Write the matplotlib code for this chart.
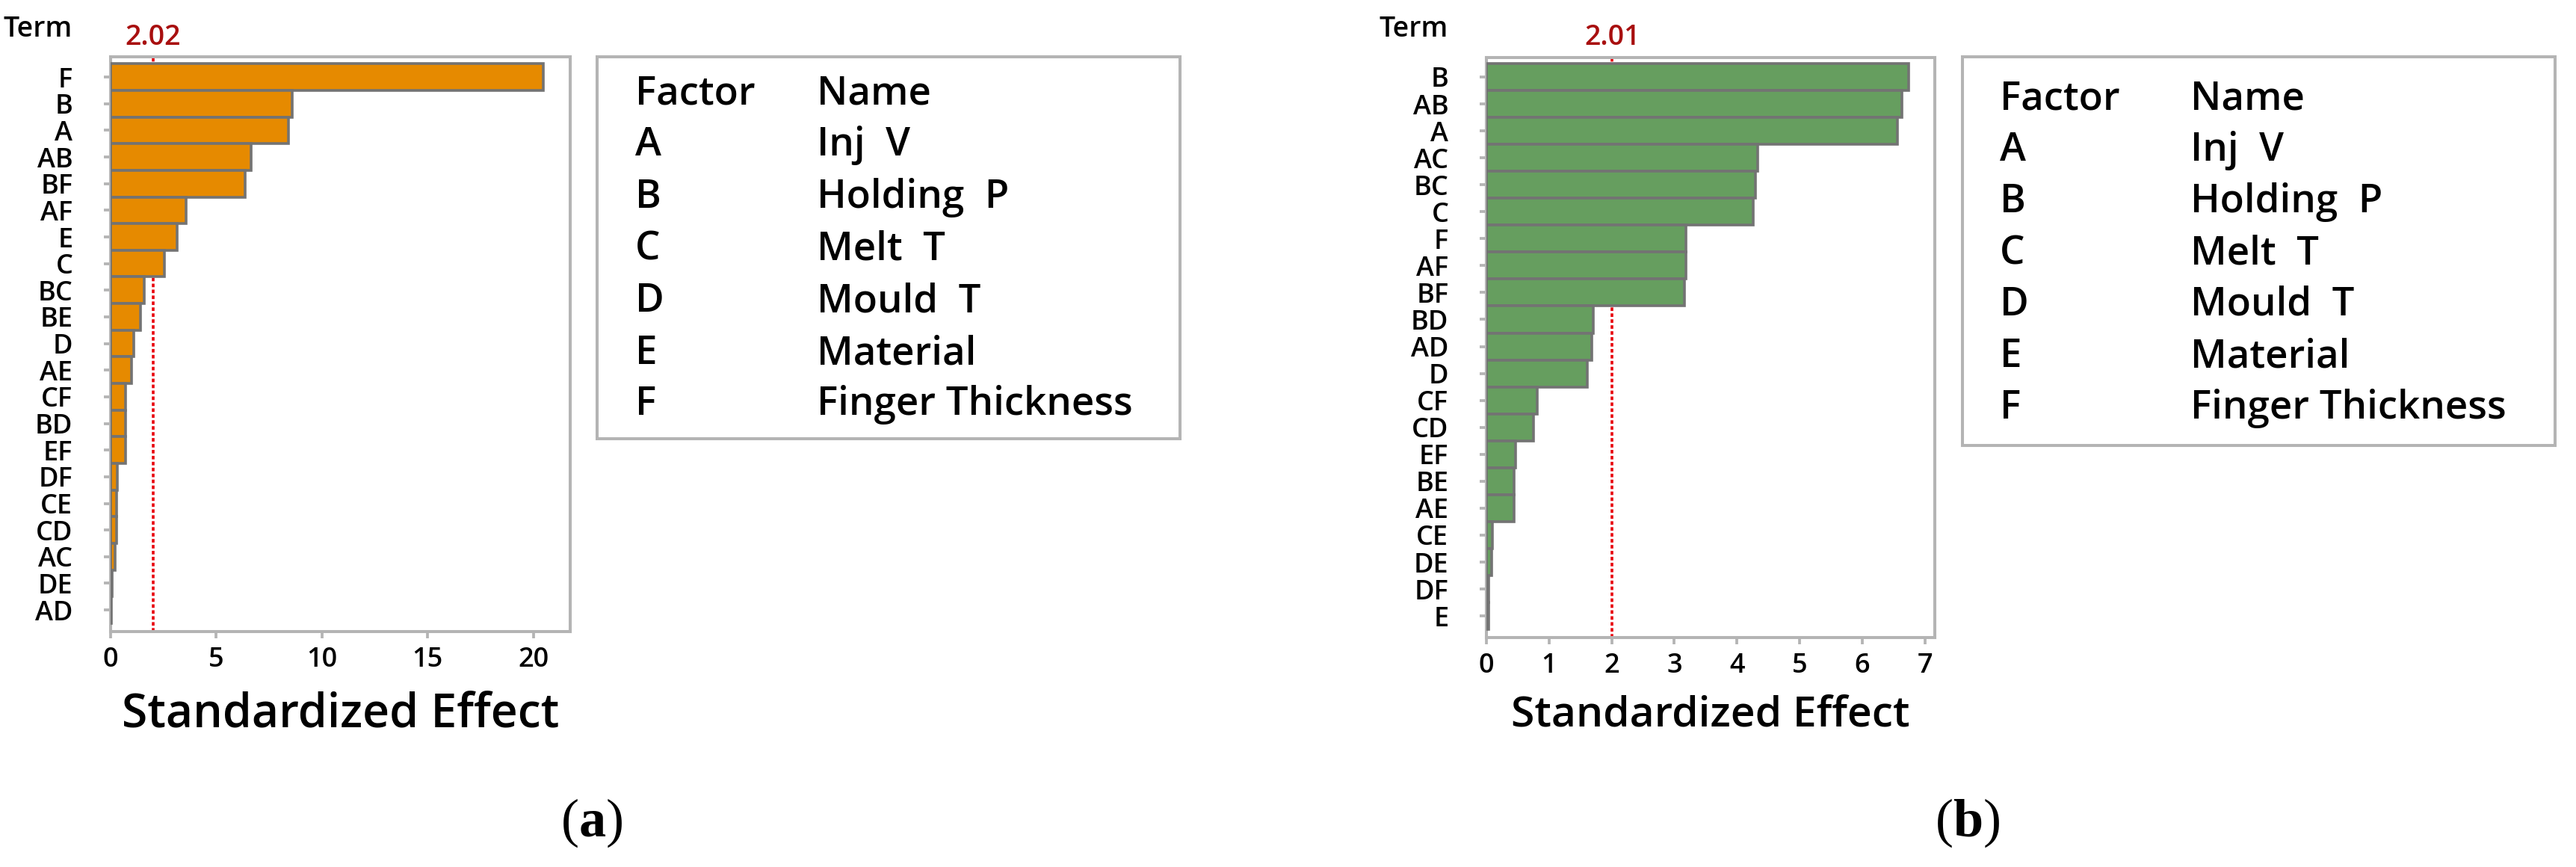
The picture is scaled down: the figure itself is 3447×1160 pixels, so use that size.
import matplotlib
matplotlib.use('Agg')
import matplotlib.pyplot as plt
from matplotlib.patches import Rectangle
import matplotlib.transforms as mtransforms

# Datos de los dos diagramas de Pareto (efectos estandarizados)
terms_a = ['F', 'B', 'A', 'AB', 'BF', 'AF', 'E', 'C', 'BC', 'BE', 'D',
           'AE', 'CF', 'BD', 'EF', 'DF', 'CE', 'CD', 'AC', 'DE', 'AD']
effects_a = [20.49, 8.58, 8.40, 6.65, 6.35, 3.57, 3.14, 2.54, 1.60, 1.40, 1.11,
             1.00, 0.70, 0.69, 0.69, 0.32, 0.30, 0.30, 0.22, 0.06, 0.04]
ref_a = 2.02

terms_b = ['B', 'AB', 'A', 'AC', 'BC', 'C', 'F', 'AF', 'BF', 'BD', 'AD',
           'D', 'CF', 'CD', 'EF', 'BE', 'AE', 'CE', 'DE', 'DF', 'E']
effects_b = [6.74, 6.63, 6.56, 4.33, 4.30, 4.26, 3.19, 3.19, 3.16, 1.71, 1.68,
             1.61, 0.81, 0.75, 0.47, 0.44, 0.44, 0.09, 0.08, 0.04, 0.03]
ref_b = 2.01

factors = ['A', 'B', 'C', 'D', 'E', 'F']
factor_names = ['Inj  V', 'Holding  P', 'Melt  T', 'Mould  T', 'Material',
                'Finger Thickness']

W, H = 3448, 1160
plt.rcParams['font.family'] = ['Open Sans', 'DejaVu Sans']
plt.rcParams['font.weight'] = 'semibold'
plt.rcParams['axes.labelweight'] = 'semibold'
plt.rcParams['mathtext.fontset'] = 'custom'
plt.rcParams['mathtext.rm'] = 'Liberation Serif'
plt.rcParams['mathtext.bf'] = 'Liberation Serif:bold'

FRAME = '#B4B4B4'
EDGE = '#737373'


def fx(px):
    return px / W


def fy(py):
    return 1 - py / H


fig = plt.figure(figsize=(W / 100, H / 100), dpi=100)


def pareto(box, terms, effects, ref, color, xmax, ylims, ticks, xlabel_size,
           label_base, term_base):
    x0, y0, x1, y1 = box
    ax = fig.add_axes([fx(x0), fy(y1), (x1 - x0) / W, (y1 - y0) / H])
    pos = list(range(len(terms)))
    ax.barh(pos, effects, height=1.0, color=color, edgecolor=EDGE,
            linewidth=2.6, zorder=3)
    ax.axvline(ref, color='#E8000B', linestyle=(0, (1.3, 0.9)), linewidth=2.6,
               zorder=2)
    ax.set_xlim(0, xmax)
    ax.set_ylim(*ylims)
    ax.set_yticks(pos)
    ax.set_yticklabels(terms)
    ax.set_xticks(ticks)
    for s in ax.spines.values():
        s.set_color(FRAME)
        s.set_linewidth(2.9)
    ax.tick_params(axis='y', length=6.5, width=2.7, color=FRAME, pad=30,
                   labelsize=26)
    ax.tick_params(axis='x', length=6.5, width=2.7, color=FRAME, pad=8,
                   labelsize=26)
    trans = mtransforms.blended_transform_factory(ax.transData, ax.transAxes)
    ax.text(ref, 1 + (y0 - 60) / (y1 - y0), f'{ref:.2f}', transform=trans,
            ha='center', va='baseline', color='#A80F0F', fontsize=27)
    ax.set_xlabel('Standardized Effect', fontsize=xlabel_size,
                  fontweight='semibold')
    ax.xaxis.label.set_va('baseline')
    ax.xaxis.set_label_coords(0.5, -(label_base - y1) / (y1 - y0))
    fig.text(fx(x0 - 51), fy(term_base), 'Term', ha='right', va='baseline',
             fontsize=27)
    return ax


pareto((148, 76, 763, 845), terms_a, effects_a, ref_a, '#E68A00', 21.75,
       (20.81, -0.76), [0, 5, 10, 15, 20], 45, 973, 49)
pareto((1989, 77, 2589, 853), terms_b, effects_b, ref_b, '#669E5F', 7.16,
       (20.80, -0.72), list(range(8)), 41, 972, 49)


def factor_box(box, col1, col2, bases):
    x0, y0, x1, y1 = box
    fig.patches.append(Rectangle((fx(x0), fy(y1)), (x1 - x0) / W,
                                 (y1 - y0) / H, transform=fig.transFigure,
                                 facecolor='none', edgecolor=FRAME,
                                 linewidth=2.9))
    rows = [('Factor', 'Name')] + list(zip(factors, factor_names))
    for (f, n), b in zip(rows, bases):
        fig.text(fx(col1), fy(b), f, ha='left', va='baseline', fontsize=38)
        fig.text(fx(col2), fy(b), n, ha='left', va='baseline', fontsize=38)


factor_box((799, 76, 1579, 587), 850, 1093, [140, 208, 278, 347, 417, 487, 555])
factor_box((2626, 76, 3419, 596), 2676, 2931, [147, 215, 284, 354, 422, 491, 560])

fig.text(fx(792), fy(1119), r'($\mathbf{a}$)', ha='center', va='baseline',
         fontsize=52, family='Liberation Serif', weight='normal')
fig.text(fx(2633), fy(1119), r'($\mathbf{b}$)', ha='center', va='baseline',
         fontsize=52, family='Liberation Serif', weight='normal')

fig.savefig('out.png', dpi=100, facecolor='white')
